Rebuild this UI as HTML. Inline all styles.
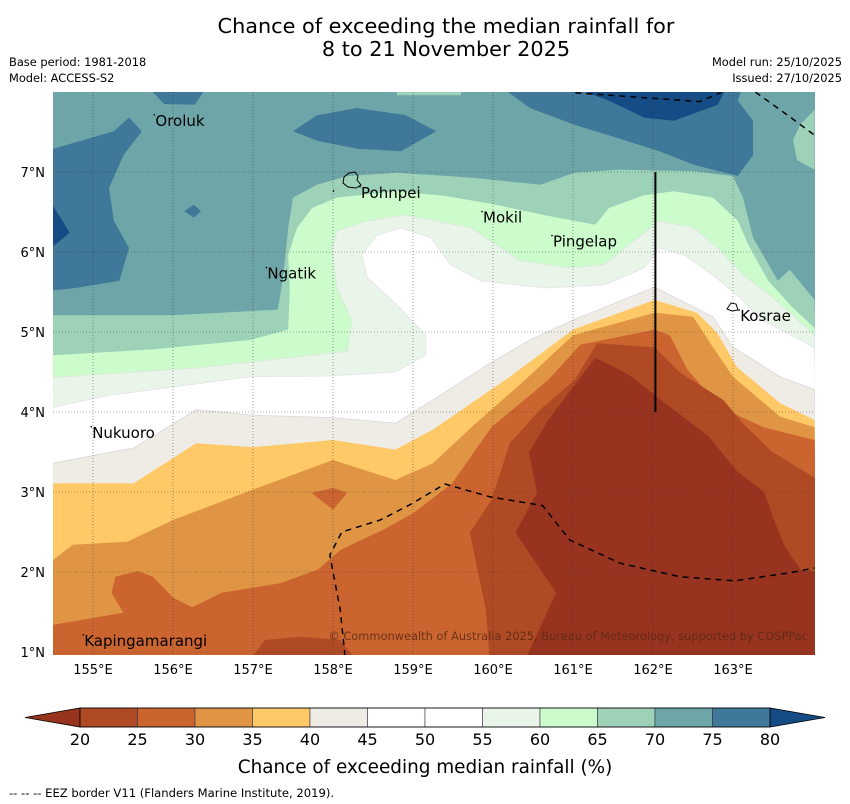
<!DOCTYPE html>
<html><head><meta charset="utf-8"><style>
html,body{margin:0;padding:0;background:#fff;}
svg{display:block;font-family:"DejaVu Sans","Liberation Sans",sans-serif;}
</style></head><body>
<svg id="chart" width="850" height="804" viewBox="0 0 850 804" xmlns="http://www.w3.org/2000/svg">
<defs><clipPath id="plotclip"><rect x="53" y="92" width="762" height="563"/></clipPath></defs>
<text x="446" y="33" font-size="20.8" text-anchor="middle">Chance of exceeding the median rainfall for</text>
<text x="446" y="56" font-size="20.8" text-anchor="middle">8 to 21 November 2025</text>
<text x="9" y="66" font-size="11.4">Base period: 1981-2018</text>
<text x="9" y="82" font-size="11.4">Model: ACCESS-S2</text>
<text x="842" y="66" font-size="11.4" text-anchor="end">Model run: 25/10/2025</text>
<text x="842" y="82" font-size="11.4" text-anchor="end">Issued: 27/10/2025</text>
<g id="map" clip-path="url(#plotclip)"></g>
<g id="overlay"></g>
<g id="axes"></g>
<g id="cbar"></g>
<text x="425" y="773" font-size="18.4" text-anchor="middle">Chance of exceeding median rainfall (%)</text>
<text x="9" y="797" font-size="11.6">--  --  -- EEZ border V11 (Flanders Marine Institute, 2019).</text>
</svg>
<script>
// colour scale data
const levels = [20,25,30,35,40,45,50,55,60,65,70,75,80];
const binColors = ["#b04a24","#cc6430","#e09544","#fec966","#efebe5","#ffffff","#ffffff","#eaf5ea","#ccfccc","#9dd2b9","#6ea5a8","#3f7898"];
const lowExtColor = "#98331f";
const highExtColor = "#164c86";
const lonTicks = [155,156,157,158,159,160,161,162,163];
const latTicks = [1,2,3,4,5,6,7];

// contour regions [lon,lat]
const c70 = [[154.5,5.21],[156.01,5.21],[157.31,5.28],[157.38,5.71],[157.44,6.30],[157.50,6.68],[157.80,6.84],[158.18,6.95],[158.80,6.99],[159.73,6.93],[160.59,6.84],[161.02,6.99],[161.57,7.03],[162.51,7.01],[163.00,6.95],[163.125,6.68],[163.25,6.18],[163.56,5.64],[163.71,5.78],[164.02,5.40],[164.1,0.5],[154.4,0.5]];
const c70patchTop = [[158.80,8.1],[159.60,8.1],[159.60,7.96],[158.80,7.96]];
const c70patchRight = [[164.02,7.78],[163.84,7.59],[163.75,7.40],[163.80,7.15],[164.02,7.03]];
const c65 = [[154.5,4.71],[155.71,4.78],[156.96,4.90],[157.44,5.03],[157.46,5.53],[157.44,5.96],[157.55,6.30],[157.74,6.55],[158.05,6.68],[158.80,6.76],[159.41,6.70],[160.04,6.59],[160.65,6.46],[161.28,6.34],[161.45,6.55],[161.89,6.71],[162.26,6.76],[162.75,6.68],[163.06,6.39],[163.19,6.09],[163.44,5.64],[163.75,5.30],[164.02,5.05],[164.1,0.5],[154.4,0.5]];
const c60 = [[154.5,4.43],[156.31,4.55],[158.18,4.76],[158.24,5.14],[158.05,5.55],[157.99,6.05],[158.05,6.26],[158.43,6.39],[158.91,6.46],[159.73,6.30],[160.04,6.09],[160.34,5.89],[160.96,5.80],[161.39,5.84],[161.70,6.09],[162.08,6.39],[162.51,6.30],[162.81,6.05],[163.13,5.71],[163.50,5.43],[164.02,4.96],[164.1,0.5],[154.4,0.5]];
const c55 = [[154.5,4.06],[155.21,4.21],[156.21,4.34],[156.96,4.44],[157.96,4.45],[158.78,4.50],[159.16,4.71],[159.16,4.96],[158.80,5.34],[158.43,5.68],[158.36,5.96],[158.55,6.21],[158.85,6.30],[159.22,6.18],[159.47,5.84],[159.85,5.64],[160.65,5.55],[161.39,5.59],[161.89,5.80],[162.08,6.05],[162.39,5.96],[162.75,5.71],[163.13,5.39],[163.38,5.14],[163.86,4.89],[164.02,4.80],[164.1,0.5],[154.4,0.5]];
const c45 = [[154.5,3.36],[155.51,3.55],[156.29,4.03],[157.00,3.96],[158.00,3.93],[158.78,3.86],[159.25,4.15],[159.93,4.59],[160.46,4.90],[161.00,5.15],[162.02,5.56],[162.75,5.19],[163.00,4.81],[163.59,4.44],[164.02,4.28],[164.1,0.5],[154.4,0.5]];
const c40 = [[154.5,3.11],[155.51,3.11],[156.29,3.61],[157.00,3.56],[158.00,3.65],[158.78,3.53],[159.25,3.78],[160.21,4.44],[161.00,5.03],[162.02,5.40],[162.55,5.24],[162.80,4.99],[163.05,4.56],[163.59,4.11],[164.02,3.90],[164.1,0.5],[154.4,0.5]];
const c35 = [[154.5,2.15],[154.75,2.34],[155.43,2.38],[156.00,2.65],[157.00,3.03],[158.00,3.40],[158.78,3.15],[159.25,3.36],[159.73,3.81],[160.40,4.40],[161.00,4.96],[162.02,5.24],[162.50,5.19],[162.75,4.81],[163.00,4.44],[163.59,3.94],[164.02,3.81],[164.1,0.5],[154.4,0.5]];
const c30patch = [[157.73,2.99],[158.00,3.05],[158.18,2.99],[158.00,2.78]];
const c30 = [[154.5,1.34],[155.38,1.49],[155.23,1.74],[155.28,1.94],[155.56,2.01],[155.75,1.94],[156.00,1.68],[156.24,1.56],[156.61,1.74],[157.34,1.86],[157.81,2.03],[158.10,2.28],[158.63,2.53],[159.01,2.74],[159.49,3.11],[159.98,3.81],[160.69,4.40],[161.09,4.84],[162.02,5.03],[162.21,4.96],[162.43,4.53],[162.84,4.06],[163.38,3.81],[164.02,3.65],[164.1,0.5],[154.4,0.5]];
const c25 = [[159.96,0.9],[159.91,1.53],[159.71,2.49],[159.98,2.90],[160.21,3.61],[160.59,4.03],[161.02,4.40],[161.30,4.86],[162.02,4.81],[162.34,4.49],[162.88,4.15],[163.13,3.85],[163.48,3.51],[164.02,3.18],[164.1,0.9]];
const c25patch = [[156.96,0.9],[157.15,1.15],[157.59,1.19],[158.09,1.15],[158.29,0.9]];
const c20 = [[160.40,0.9],[160.79,1.74],[160.28,2.49],[160.55,2.99],[160.45,3.49],[160.69,3.90],[161.28,4.68],[161.71,4.46],[162.10,4.15],[162.70,3.69],[163.05,3.26],[163.39,3.00],[163.51,2.66],[163.64,2.33],[163.85,2.02],[164.1,2.00],[164.1,0.9]];
const b75left = [[154.4,7.26],[155.26,7.51],[155.45,7.68],[155.61,7.51],[155.38,7.21],[155.20,6.80],[155.26,6.39],[155.45,6.05],[155.33,5.64],[154.78,5.55],[154.4,5.51]];
const b75topLeft = [[155.65,8.1],[156.45,8.1],[156.27,7.84],[155.89,7.85]];
const b75mid = [[157.50,7.51],[157.80,7.71],[158.30,7.80],[158.91,7.71],[159.29,7.51],[158.85,7.26],[158.30,7.29],[157.80,7.39]];
const b75diamond = [[156.14,6.51],[156.26,6.59],[156.35,6.51],[156.26,6.43]];
const b75right = [[160.05,8.1],[160.46,7.80],[161.02,7.59],[161.57,7.42],[162.08,7.26],[162.51,7.09],[163.06,6.95],[163.25,7.21],[163.25,7.64],[163.06,7.89],[163.13,8.1]];
const b80left = [[154.4,6.74],[154.71,6.24],[154.4,5.99]];
const b80right = [[160.89,8.1],[161.45,7.89],[161.89,7.68],[162.26,7.64],[162.81,7.84],[162.94,8.1]];
const eezSouth = [[158.15,0.95],[158.09,1.53],[157.96,2.21],[158.11,2.50],[158.59,2.65],[158.96,2.84],[159.40,3.10],[159.96,2.94],[160.62,2.83],[160.96,2.40],[161.59,2.11],[162.34,1.94],[163.02,1.89],[163.71,1.99],[164.02,2.05]];
const eezNorth = [[161.03,7.99],[162.59,7.88],[162.86,8.0]];
const eezNorthEast = [[163.28,8.0],[163.71,7.69],[164.02,7.46]];
const boundaryLine = [[162.03,7.0],[162.03,4.0]];
const placeNames = ["Oroluk","Pohnpei","Mokil","Pingelap","Ngatik","Kosrae","Nukuoro","Kapingamarangi"];
const placeLon = [155.78,158.35,159.875,160.75,157.18,163.09,154.99,154.89];
const placeLat = [7.64,6.74,6.43,6.13,5.73,5.20,3.74,1.14];

const NS = "http://www.w3.org/2000/svg";
const X0=53, X1=815, Y0=92, Y1=655;
const lonMin=154.5, latMax=8.0, pxPerDeg=80;
function px(lon){ return X0 + (lon-lonMin)*pxPerDeg; }
function py(lat){ return Y0 + (latMax-lat)*pxPerDeg; }
function pts(arr){ return arr.map(p=>px(p[0]).toFixed(1)+","+py(p[1]).toFixed(1)).join(" "); }
function mk(tag, parent){ const e=document.createElementNS(NS,tag); parent.appendChild(e); return e; }

const map = document.getElementById("map");
const bg = mk("rect", map);


bg.setAttribute("x",X0); bg.setAttribute("y",Y0); bg.setAttribute("width",X1-X0); bg.setAttribute("height",Y1-Y0); bg.setAttribute("fill",binColors[10]);

function poly(arr, color, name, stroke){
  const p = mk("polygon", map);
  
  
  p.setAttribute("points", pts(arr));
  p.setAttribute("fill", color);
  p.setAttribute("stroke", stroke || "none");
  p.setAttribute("stroke-width", "0.8");
}
poly(b75left, binColors[11], "field-75-80-west");
poly(b75topLeft, binColors[11], "field-75-80-north");
poly(b75mid, binColors[11], "field-75-80-central");
poly(b75diamond, binColors[11], "field-75-80-small");
poly(b75right, binColors[11], "field-75-80-east");
poly(b80left, highExtColor, "field-above-80-west");
poly(b80right, highExtColor, "field-above-80-east");
poly(c70, binColors[9], "field-below-70");
poly(c70patchTop, binColors[9], "field-65-70-north");
poly(c70patchRight, binColors[9], "field-65-70-east");
poly(c65, binColors[8], "field-below-65");
poly(c60, binColors[7], "field-below-60", "#dde6dd");
poly(c55, binColors[6], "field-below-55", "#e4e4e4");
poly(c45, binColors[4], "field-below-45", "#d8d8d8");
poly(c40, binColors[3], "field-below-40");
poly(c35, binColors[2], "field-below-35");
poly(c30patch, binColors[1], "field-25-30-patch");
poly(c30, binColors[1], "field-below-30");
poly(c25patch, binColors[0], "field-20-25-patch");
poly(c25, binColors[0], "field-below-25");
poly(c20, lowExtColor, "field-below-20");

lonTicks.forEach(function(lon){
  const l = mk("line", map);
  
  
  l.setAttribute("x1",px(lon)); l.setAttribute("x2",px(lon)); l.setAttribute("y1",Y0); l.setAttribute("y2",Y1);
  l.setAttribute("stroke","#333"); l.setAttribute("stroke-width","0.6"); l.setAttribute("stroke-dasharray","1,2"); l.setAttribute("opacity","0.8");
});
latTicks.forEach(function(lat){
  const l = mk("line", map);
  
  
  l.setAttribute("x1",X0); l.setAttribute("x2",X1); l.setAttribute("y1",py(lat)); l.setAttribute("y2",py(lat));
  l.setAttribute("stroke","#333"); l.setAttribute("stroke-width","0.6"); l.setAttribute("stroke-dasharray","1,2"); l.setAttribute("opacity","0.8");
});

function line(arr, name, dash, width){
  const p = mk("polyline", map);
  
  
  p.setAttribute("points", pts(arr));
  p.setAttribute("fill","none"); p.setAttribute("stroke","#000"); p.setAttribute("stroke-width", width);
  if (dash) p.setAttribute("stroke-dasharray", dash);
}
line(eezSouth, "eez-border-south", "6,5", 1.5);
line(eezNorth, "eez-border-north", "6,5", 1.5);
line(eezNorthEast, "eez-border-northeast", "6,5", 1.5);
line(boundaryLine, "boundary-line", null, 2);

const overlay = document.getElementById("overlay");
const pohn = mk("path", overlay);


pohn.setAttribute("d","M344,177 L349,173 L355,172 L358,176 L357,180 L361,185 L356,188 L348,187 L343,183 Z M334,190 L333,192");
pohn.setAttribute("fill","none"); pohn.setAttribute("stroke","#000"); pohn.setAttribute("stroke-width","1");
const kos = mk("path", overlay);


kos.setAttribute("d","M727,309 L731,303 L736,304 L738,310 L732,311 Z");
kos.setAttribute("fill","#fff"); kos.setAttribute("stroke","#000"); kos.setAttribute("stroke-width","1");

placeNames.forEach(function(n,i){
  const t = mk("text", overlay);
  
  
  t.setAttribute("x", px(placeLon[i])); t.setAttribute("y", py(placeLat[i])+5);
  t.setAttribute("font-size","15"); t.setAttribute("fill","#000");
  t.textContent = n;
  const d = mk("circle", overlay);
  
  
  d.setAttribute("cx", px(placeLon[i])-1); d.setAttribute("cy", py(placeLat[i])-6); d.setAttribute("r","0.8"); d.setAttribute("fill","#000");
});
const cp = mk("text", overlay);


cp.setAttribute("x","808"); cp.setAttribute("y","640"); cp.setAttribute("text-anchor","end");
cp.setAttribute("font-size","11.4"); cp.setAttribute("fill","#5a2a14"); cp.setAttribute("opacity","0.85");
cp.textContent = "© Commonwealth of Australia 2025, Bureau of Meteorology, supported by COSPPac";

const axes = document.getElementById("axes");
lonTicks.forEach(function(lon){
  const t = mk("text", axes);
  
  
  t.setAttribute("x", px(lon)); t.setAttribute("y", 674); t.setAttribute("text-anchor","middle"); t.setAttribute("font-size","13");
  t.textContent = lon + "°E";
});
latTicks.forEach(function(lat){
  const t = mk("text", axes);
  
  
  t.setAttribute("x", 45); t.setAttribute("y", py(lat)+5); t.setAttribute("text-anchor","end"); t.setAttribute("font-size","13");
  t.textContent = lat + "°N";
});

const cb = document.getElementById("cbar");
const CB0=80, CB1=770, CBY=708, CBH=19;
function cx(v){ return CB0 + (v-levels[0])/(levels[levels.length-1]-levels[0])*(CB1-CB0); }
const lt = mk("polygon", cb);


lt.setAttribute("points", CB0+","+CBY+" "+CB0+","+(CBY+CBH)+" 25,"+(CBY+CBH/2));
lt.setAttribute("fill", lowExtColor); lt.setAttribute("stroke","#000"); lt.setAttribute("stroke-width","0.8");
const rt = mk("polygon", cb);


rt.setAttribute("points", CB1+","+CBY+" "+CB1+","+(CBY+CBH)+" 825,"+(CBY+CBH/2));
rt.setAttribute("fill", highExtColor); rt.setAttribute("stroke","#000"); rt.setAttribute("stroke-width","0.8");
binColors.forEach(function(c,i){
  const r = mk("rect", cb);
  
  
  r.setAttribute("x", cx(levels[i])); r.setAttribute("y", CBY); r.setAttribute("width", cx(levels[i+1])-cx(levels[i])); r.setAttribute("height", CBH);
  r.setAttribute("fill", c); r.setAttribute("stroke","#334"); r.setAttribute("stroke-width","0.6");
});
const fr = mk("rect", cb);


fr.setAttribute("x", CB0); fr.setAttribute("y", CBY); fr.setAttribute("width", CB1-CB0); fr.setAttribute("height", CBH);
fr.setAttribute("fill","none"); fr.setAttribute("stroke","#000"); fr.setAttribute("stroke-width","0.8");
levels.forEach(function(v){
  const t = mk("text", cb);
  
  
  t.setAttribute("x", cx(v)); t.setAttribute("y", 745); t.setAttribute("text-anchor","middle"); t.setAttribute("font-size","16");
  t.textContent = v;
});
</script>
</body></html>
